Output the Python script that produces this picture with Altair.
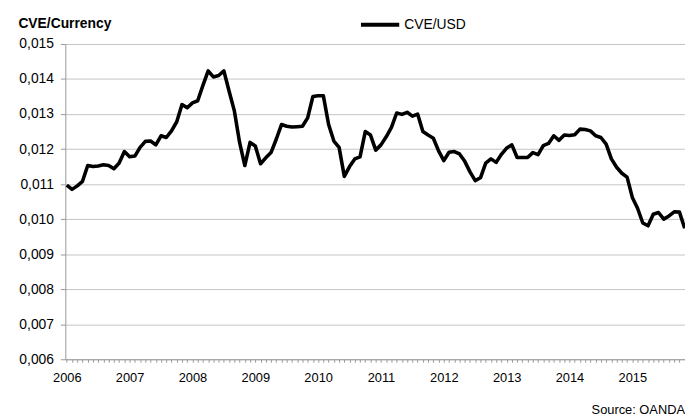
import altair as alt
import pandas as pd

start_year = 2006
series_name = "CVE/USD"

# Monthly CVE/USD rate, Jan 2006 - Nov 2015
rate = [
    0.01097, 0.01085, 0.01095, 0.01108, 0.01153, 0.01150, 0.01152, 0.01155, 0.01153, 0.01144, 0.01160, 0.01193,
    0.01178, 0.01180, 0.01205, 0.01222, 0.01223, 0.01212, 0.01238, 0.01233, 0.01252, 0.01278, 0.01327, 0.01318,
    0.01332, 0.01338, 0.01382, 0.01423, 0.01406, 0.01410, 0.01423, 0.01365, 0.01309, 0.01219, 0.01153, 0.01219,
    0.01209, 0.01158, 0.01175, 0.01190, 0.01228, 0.01270, 0.01265, 0.01263, 0.01264, 0.01265, 0.01289, 0.01350,
    0.01352, 0.01352, 0.01270, 0.01223, 0.01205, 0.01122, 0.01150, 0.01172, 0.01178, 0.01250, 0.01240, 0.01197,
    0.01212, 0.01235, 0.01262, 0.01303, 0.01299, 0.01305, 0.01294, 0.01300, 0.01250, 0.01240, 0.01231, 0.01195,
    0.01167, 0.01191, 0.01193, 0.01186, 0.01165, 0.01135, 0.01110, 0.01118, 0.01160, 0.01172, 0.01162, 0.01185,
    0.01203, 0.01212, 0.01176, 0.01176, 0.01176, 0.01190, 0.01184, 0.01210, 0.01216, 0.01238, 0.01225, 0.01240,
    0.01239, 0.01241, 0.01257, 0.01256, 0.01252, 0.01238, 0.01233, 0.01214, 0.01172, 0.01148, 0.01131, 0.01120,
    0.01062, 0.01031, 0.00989, 0.00981, 0.01014, 0.01019, 0.01000, 0.01009, 0.01021, 0.01020, 0.00974,
]

y_ticks = [0.006, 0.007, 0.008, 0.009, 0.010, 0.011, 0.012, 0.013, 0.014, 0.015]
month_index = list(range(len(rate)))

df = pd.DataFrame({"month": month_index, "rate": rate, "series": series_name})

FONT = "Liberation Sans, Arial, sans-serif"

x_axis = alt.Axis(
    values=month_index,
    labelExpr=f"datum.value % 12 == 0 ? '' + ({start_year} + datum.value / 12) : ''",
    labelOverlap=False,
    labelBound=False,
    labelFlush=False,
    labelFontSize=13,
    labelColor="#000",
    labelPadding=10,
    tickSize=3,
    tickColor="#999",
    domainColor="#999",
    grid=False,
    title=None,
)

y_axis = alt.Axis(
    values=y_ticks,
    labelExpr="replace(format(datum.value, '.3f'), '.', ',')",
    labelFontSize=14,
    labelColor="#000",
    labelPadding=7,
    tickSize=5,
    tickColor="#999",
    domainColor="#999",
    grid=True,
    gridColor="#c4c4c4",
    gridWidth=1,
    title="CVE/Currency",
    titleAngle=0,
    titleAlign="left",
    titleBaseline="alphabetic",
    titleX=-48,
    titleY=-17,
    titleFontSize=14,
    titleFontWeight="bold",
    titleColor="#000",
)

chart = (
    alt.Chart(df)
    .mark_line(strokeWidth=3.6, strokeJoin="round")
    .encode(
        x=alt.X("month:Q", scale=alt.Scale(domain=[-0.28, 118.06], nice=False, zero=False), axis=x_axis),
        y=alt.Y("rate:Q", scale=alt.Scale(domain=[0.006, 0.015], nice=False, zero=False), axis=y_axis),
        color=alt.Color(
            "series:N",
            scale=alt.Scale(domain=[series_name], range=["#000000"]),
            legend=alt.Legend(
                title=None,
                orient="none",
                legendX=297,
                legendY=-41,
                symbolType="stroke",
                symbolSize=1500,
                symbolStrokeWidth=4,
                labelFontSize=14,
                labelColor="#000",
                labelOffset=3,
                padding=0,
            ),
        ),
    )
    .properties(
        width=627,
        height=319,
        autosize=alt.AutoSizeParams(type="none"),
        padding={"left": 58, "top": 34, "right": 0, "bottom": 55},
        title=alt.TitleParams(
            "Source: OANDA",
            orient="bottom",
            anchor="end",
            frame="group",
            fontSize=13,
            fontWeight="normal",
            color="#000",
            dx=0,
            offset=19,
        ),
    )
    .configure(font=FONT)
    .configure_view(stroke=None)
)

chart.save("out.html", embed_options={"renderer": "svg", "actions": False})
